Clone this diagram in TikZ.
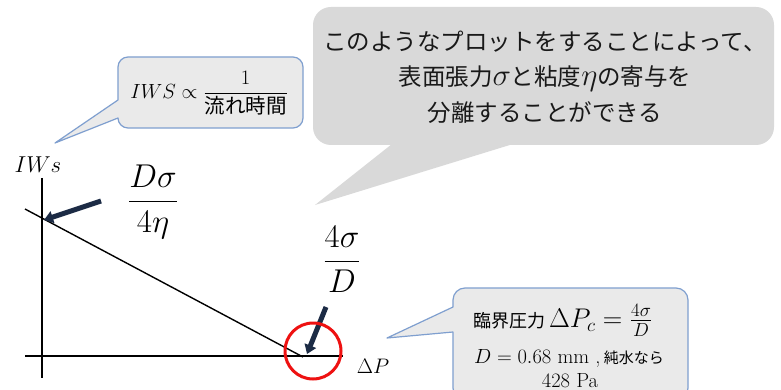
\RequirePackage{fix-cm}
\documentclass[tikz,border=0pt]{standalone}
\usepackage{amsmath}
\usepackage{fontspec}
\newfontfamily\jp{Noto Sans CJK JP}
\usetikzlibrary{arrows.meta}
\definecolor{biggray}{HTML}{D9D9D9}
\definecolor{smallfill}{HTML}{EAEAEA}
\definecolor{bubbleline}{HTML}{7F9FCF}
\definecolor{navy}{HTML}{1C2B45}
\definecolor{ringred}{HTML}{EE1111}
\newcommand{\fs}[1]{\fontsize{#1}{#1}\selectfont}
\tikzset{
  smallbubble/.style={fill=smallfill, draw=bubbleline, line width=1.2pt, line join=round},
  axisline/.style={line width=1.8pt, black},
  fatarrow/.style={navy, line width=5pt, -{Triangle[length=9pt,width=12pt]}},
  lbl/.style={inner sep=0pt, align=center},
}
\begin{document}
\begin{tikzpicture}[x=1pt,y=-1pt]
\clip (0,0) rectangle (781,390);
\fill[white] (0,0) rectangle (781,390);

% big gray bubble
\fill[biggray, rounded corners=18pt] (313,7) rectangle (774,145);
\fill[biggray] (392,144) -- (513,144) -- (315,205) -- cycle;
\node[lbl, font=\jp\fontsize{23.5}{35.5}\selectfont, text=black!90] (bigtext) at (545,77)
  {このようなプロットをすることによって、\\表面張力{\fs{31}$\sigma$}と粘度{\fs{31}$\eta$}の寄与を\\分離することができる};

% top-left bubble
\draw[smallbubble] (55,143) -- (118,100) [rounded corners=10pt] -- (118,57) -- (303,57) -- (303,128) -- (118,128) [sharp corners] -- (118,118) -- cycle;
\node[lbl, font=\fs{20.5}] (iws) at (209,93) {$IWS \propto \dfrac{1}{\text{\jp 流れ時間}}$};

% bottom-right bubble
\draw[smallbubble] (387,338) -- (453,307) [rounded corners=12pt] -- (453,288) -- (688,288) -- (688,400) -- (453,400) [sharp corners] -- (453,332) -- cycle;
\node[lbl, anchor=base] (pc) at (563,327) {{\jp\fs{18}臨界圧力}\ {\fs{27}$\Delta P_c = \frac{4\sigma}{D}$}};
\node[lbl, anchor=base] (dmm) at (569,363) {{\fs{20.5}$D = 0.68\ \mathrm{mm}$ ,}\ {\jp\fs{15}純水なら}};
\node[lbl, anchor=base] (pa) at (570,387) {\fs{20.5}428 Pa};

% axes
\coordinate (ytop) at (42,178);
\coordinate (ybot) at (42,378);
\coordinate (xl) at (25,356);
\coordinate (xr) at (343,356);
\draw[axisline] (ytop) -- (ybot);
\draw[axisline] (xl) -- (xr);
\node[lbl, font=\fs{23}] (ylab) at (38,165) {$IWs$};
\node[lbl, font=\fs{21}] (xlab) at (373,366) {$\Delta P$};

% line
\coordinate (ls) at (25,209);
\coordinate (le) at (303,357);
\draw[line width=1.4pt] (ls) -- (le);

% fractions
\node[lbl, font=\fs{33}] (f1) at (153,202) {$\dfrac{D\sigma}{4\eta}$};
\node[lbl, font=\fs{33}] (f2) at (342,259) {$\dfrac{4\sigma}{D}$};

% arrows
\coordinate (a1s) at (101,201);
\coordinate (a1e) at (44,220);
\draw[fatarrow] (a1s) -- (a1e);
\coordinate (a2s) at (326,307);
\coordinate (a2e) at (307,354);
\draw[fatarrow] (a2s) -- (a2e);

% red ring
\node[draw=ringred, line width=3pt, circle, minimum size=56pt, inner sep=0pt] (ring) at (313,351) {};
\end{tikzpicture}
\end{document}
